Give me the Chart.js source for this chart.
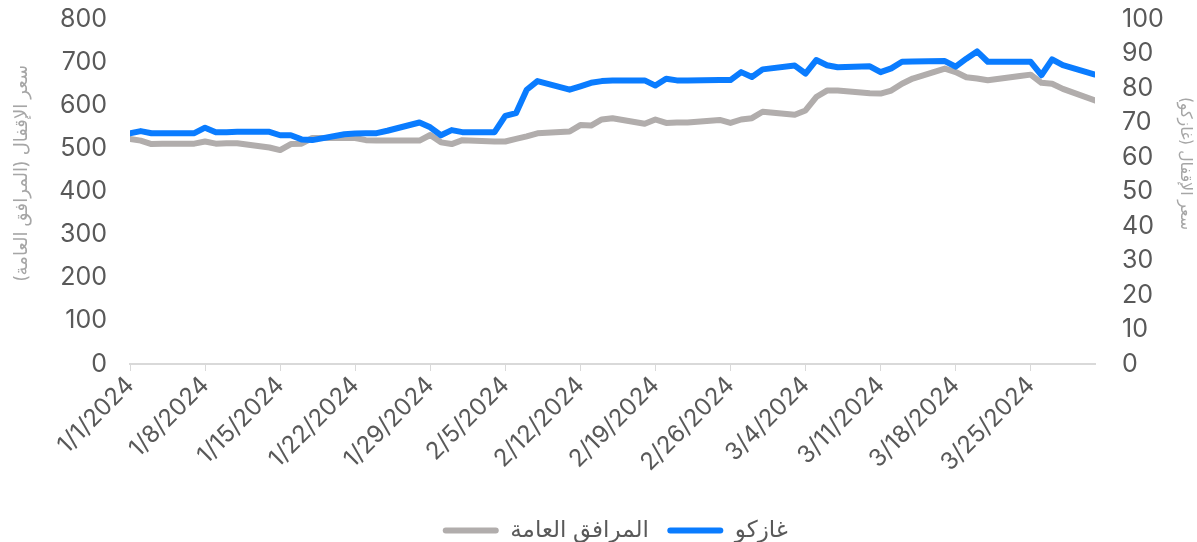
<!DOCTYPE html>
<html lang="ar">
<head>
  <meta charset="UTF-8">
  <title>غازكو مقابل المرافق العامة</title>
  <script src="https://cdn.jsdelivr.net/npm/chart.js"></script>
  <style>
    body { margin: 0; background: #fff; }
    #wrap { width: 1197px; height: 542px; position: relative; }
  </style>
</head>
<body>

<div id="wrap"><canvas id="chart"></canvas></div>

<script>
// trading days (Sun-Thu), Jan - Mar 2024
const dates = [
  '2024-01-01','2024-01-02','2024-01-03','2024-01-04',
  '2024-01-07','2024-01-08','2024-01-09','2024-01-10','2024-01-11',
  '2024-01-14','2024-01-15','2024-01-16','2024-01-17','2024-01-18',
  '2024-01-21','2024-01-22','2024-01-23','2024-01-24','2024-01-25',
  '2024-01-28','2024-01-29','2024-01-30','2024-01-31','2024-02-01',
  '2024-02-04','2024-02-05','2024-02-06','2024-02-07','2024-02-08',
  '2024-02-11','2024-02-12','2024-02-13','2024-02-14','2024-02-15',
  '2024-02-18','2024-02-19','2024-02-20','2024-02-21','2024-02-22',
  '2024-02-25','2024-02-26','2024-02-27','2024-02-28','2024-02-29',
  '2024-03-03','2024-03-04','2024-03-05','2024-03-06','2024-03-07',
  '2024-03-10','2024-03-11','2024-03-12','2024-03-13','2024-03-14',
  '2024-03-17','2024-03-18','2024-03-19','2024-03-20','2024-03-21',
  '2024-03-24','2024-03-25','2024-03-26','2024-03-27','2024-03-28',
  '2024-03-31'
];

// غازكو (right axis)
const gazco = [
  66.9, 67.5, 66.9, 66.9,
  66.9, 68.5, 67.2, 67.2, 67.3,
  67.3, 66.3, 66.3, 65.1, 64.9,
  66.6, 66.8, 66.9, 66.9, 67.6,
  70.0, 68.6, 66.3, 67.8, 67.2,
  67.2, 71.9, 72.7, 79.5, 82.0,
  79.5, 80.5, 81.5, 82.0, 82.2,
  82.2, 80.7, 82.7, 82.2, 82.2,
  82.3, 82.3, 84.6, 83.2, 85.4,
  86.5, 84.2, 88.1, 86.6, 86.0,
  86.3, 84.6, 85.7, 87.6, 87.7,
  87.8, 86.2, 88.5, 90.6, 87.6,
  87.6, 87.6, 83.7, 88.3, 86.6,
  83.9
];

// المرافق العامة (left axis)
const utilities = [
  522, 518, 510, 511,
  511, 516, 511, 512, 512,
  502, 496, 510, 511, 524,
  524, 524, 519, 518, 518,
  518, 531, 514, 510, 519,
  516, 516, 522, 528, 535,
  539, 554, 553, 567, 570,
  557, 567, 559, 560, 560,
  566, 559, 567, 570, 585,
  578, 588, 619, 634, 634,
  628, 627, 634, 650, 662,
  685, 677, 665, 662, 658,
  668, 671, 652, 650, 638,
  611
];

const seriesNames = ['غازكو', 'المرافق العامة'];
const leftTitle = 'سعر الإقفال (المرافق العامة)';
const rightTitle = 'سعر الإقفال (غازكو)';

const start = new Date(2024, 0, 1);
const dayIndex = s => {
  const p = s.split('-').map(Number);
  return Math.round((new Date(p[0], p[1] - 1, p[2]) - start) / 86400000);
};
const dayLabel = d => {
  const t = new Date(2024, 0, 1 + d);
  return (t.getMonth() + 1) + '/' + t.getDate() + '/' + t.getFullYear();
};

const xs = dates.map(dayIndex);
const FONT = 'Inter, "DejaVu Sans", sans-serif';
const RLM = '\u200F';
const EM = '\u2003';

// nudge the legend a little to the right, like the original
const legendShift = {
  id: 'legendShift',
  afterLayout(chart) {
    chart.legend.left += 20;
    chart.legend.right += 20;
  }
};

new Chart(document.getElementById('chart'), {
  type: 'line',
  data: {
    datasets: [
      {
        label: seriesNames[0],
        data: xs.map((x, i) => ({ x: x, y: gazco[i] })),
        yAxisID: 'y1',
        borderColor: '#0a7cff',
        backgroundColor: '#0a7cff',
        borderWidth: 6,
        pointRadius: 0,
        borderJoinStyle: 'round',
        borderCapStyle: 'round'
      },
      {
        label: seriesNames[1],
        data: xs.map((x, i) => ({ x: x, y: utilities[i] })),
        yAxisID: 'y',
        borderColor: '#b1adac',
        backgroundColor: '#b1adac',
        borderWidth: 6,
        pointRadius: 0,
        borderJoinStyle: 'round',
        borderCapStyle: 'round'
      }
    ]
  },
  plugins: [legendShift],
  options: {
    responsive: true,
    maintainAspectRatio: false,
    animation: false,
    layout: { padding: { top: 19, left: 0, right: 0, bottom: -10 } },
    plugins: {
      legend: {
        position: 'bottom',
        reverse: true,
        labels: {
          color: '#595959',
          font: { family: FONT, size: 23 },
          boxWidth: 56,
          boxHeight: 6,
          useBorderRadius: true,
          borderRadius: 3,
          padding: 12,
          generateLabels: chart => Chart.defaults.plugins.legend.labels.generateLabels(chart)
            .map(l => Object.assign(l, { lineWidth: 0, text: l.text + ' ' }))
        }
      },
      tooltip: { enabled: false }
    },
    scales: {
      x: {
        type: 'linear',
        min: 0,
        max: 90,
        grid: { display: true, drawOnChartArea: false, color: '#d9d9d9', tickLength: 7 },
        border: { display: true, color: '#d9d9d9', width: 2 },
        afterBuildTicks: scale => { scale.ticks = scale.ticks.filter(t => t.value % 7 === 0); },
        afterFit: scale => { scale.paddingLeft = 0; scale.paddingRight = 0; scale.height = 143; },
        ticks: {
          stepSize: 7,
          autoSkip: false,
          maxRotation: 45,
          minRotation: 45,
          padding: 0,
          color: '#595959',
          font: { family: FONT, size: 24 },
          callback: v => dayLabel(v)
        }
      },
      y: {
        position: 'left',
        min: 0,
        max: 800,
        grid: { display: false },
        border: { display: false },
        afterFit: scale => { scale.paddingTop = 0; scale.paddingBottom = 0; scale.width = 130; },
        ticks: { stepSize: 100, autoSkip: false, color: '#595959', font: { family: FONT, size: 25 }, padding: 15 },
        title: {
          display: true, text: leftTitle + EM + EM + RLM, color: '#a6a6a6',
          font: { family: FONT, size: 18 }, padding: { top: 11, bottom: 0 }
        }
      },
      y1: {
        position: 'right',
        min: 0,
        max: 100,
        grid: { display: false },
        border: { display: false },
        afterFit: scale => { scale.paddingTop = 0; scale.paddingBottom = 0; scale.width = 102; },
        ticks: { stepSize: 10, autoSkip: false, color: '#595959', font: { family: FONT, size: 25 }, padding: 19 },
        title: {
          display: true, text: RLM + EM + EM + EM + '\u2002' + rightTitle, color: '#a6a6a6',
          font: { family: FONT, size: 16 }, padding: { top: 2, bottom: 0 }
        }
      }
    }
  }
});
</script>

</body>
</html>
